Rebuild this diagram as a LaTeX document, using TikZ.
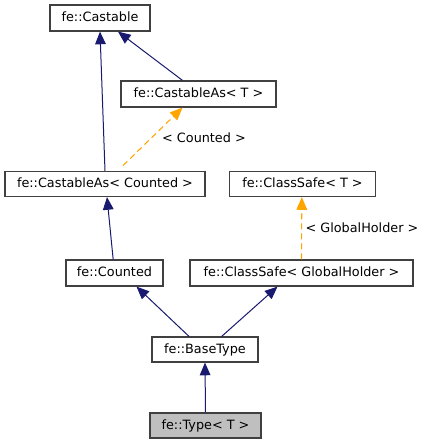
\documentclass[tikz,border=0pt]{standalone}
\usepackage{fontspec}
\setmainfont{DejaVu Sans}
\usetikzlibrary{arrows.meta}
\definecolor{navy}{HTML}{191970}
\definecolor{orng}{HTML}{FFA500}
\definecolor{boxedge}{HTML}{404040}
\begin{document}
\begin{tikzpicture}[x=0.75pt,y=-0.75pt,
  cls/.style={draw=boxedge,line width=0.9pt,fill=white,inner sep=0pt,font=\fontsize{9.6}{11}\selectfont,text height=7.3pt,text depth=1.8pt},
  inh/.style={navy,line width=0.75pt,-{Triangle[length=9.5pt,width=8pt]}},
  tmpl/.style={orng,line width=0.8pt,dashed,dash pattern=on 4.5pt off 3pt,-{Triangle[length=9.5pt,width=8pt]}},
  lbl/.style={font=\fontsize{9.6}{11}\selectfont,inner sep=0pt}]
\useasboundingbox (0,0) rectangle (427,444);
\node[cls,minimum width=75pt,minimum height=19.5pt] (castable) at (100,18) {fe::Castable};
\node[cls,minimum width=116.25pt,minimum height=19.5pt] (cat) at (198.5,94) {fe::CastableAs< T >};
\node[cls,minimum width=150pt,minimum height=18.75pt] (cac) at (105,184) {fe::CastableAs< Counted >};
\node[cls,minimum width=109.5pt,minimum height=18.75pt] (cst) at (302.5,184) {fe::ClassSafe< T >};
\node[cls,minimum width=72.75pt,minimum height=19.5pt] (counted) at (114.5,273) {fe::Counted};
\node[cls,minimum width=167.25pt,minimum height=19.5pt] (csgh) at (301.5,273) {fe::ClassSafe< GlobalHolder >};
\node[cls,minimum width=79.5pt,minimum height=18.75pt] (bt) at (205,349.5) {fe::BaseType};
\node[cls,fill=black!25,minimum width=83.25pt,minimum height=18.75pt] (type) at (205.5,425.5) {fe::Type< T >};
\draw[inh] (cac.north) -- (castable.south);
\draw[inh] ([xshift=-12pt]cat.north) -- ([xshift=13.5pt]castable.south);
\draw[tmpl] ([xshift=13.5pt,yshift=4pt]cac.north) -- ([xshift=-12pt]cat.south);
\node[lbl] (lc) at (204,138) {< Counted >};
\draw[inh] ([xshift=-1pt]counted.north) -- ([xshift=1.5pt]cac.south);
\draw[tmpl] (csgh.north) -- ([xshift=-0.5pt]cst.south);
\node[lbl] (lg) at (362,228) {< GlobalHolder >};
\draw[inh] ([xshift=-12pt]bt.north) -- ([xshift=16.5pt]counted.south);
\draw[inh] ([xshift=12.5pt]bt.north) -- ([xshift=-18pt]csgh.south);
\draw[inh] (type.north) -- (bt.south);
\end{tikzpicture}
\end{document}
